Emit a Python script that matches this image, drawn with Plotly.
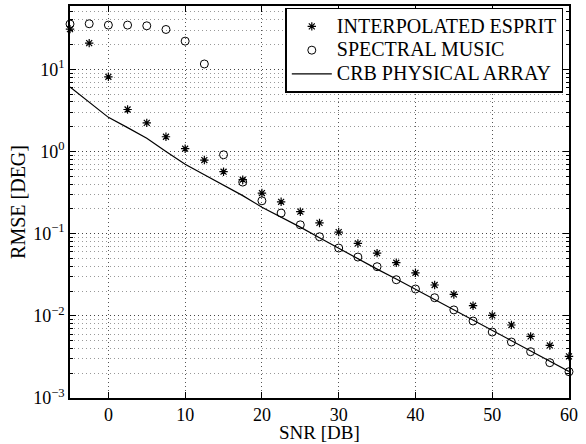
import plotly.graph_objects as go

snr_db = [-5, -2.5, 0, 2.5, 5, 7.5, 10, 12.5, 15, 17.5, 20, 22.5, 25, 27.5, 30,
          32.5, 35, 37.5, 40, 42.5, 45, 47.5, 50, 52.5, 55, 57.5, 60]

esprit_rmse = [30.8, 20.8, 8.1, 3.24, 2.23, 1.51, 1.08, 0.786, 0.567, 0.453, 0.312,
               0.244, 0.185, 0.135, 0.1045, 0.076, 0.058, 0.0443, 0.0334, 0.0237,
               0.0182, 0.01327, 0.0101, 0.00773, 0.00561, 0.00436, 0.00321]

music_rmse = [35.5, 35.8, 34.5, 34.5, 33.8, 30.5, 22.0, 11.6, 0.912, 0.424, 0.251,
              0.178, 0.128, 0.0917, 0.0668, 0.0519, 0.0396, 0.0275, 0.0212, 0.0166,
              0.0118, 0.00865, 0.00635, 0.0048, 0.00366, 0.00269, 0.00209]

crb_rmse = [6.1, 4.0, 2.6, 1.95, 1.45, 1.0, 0.70, 0.52, 0.39, 0.29, 0.21, 0.16,
            0.12, 0.089, 0.066, 0.05, 0.037, 0.028, 0.021, 0.0158, 0.0118, 0.0088,
            0.0066, 0.0049, 0.0037, 0.0028, 0.0021]

series_names = ["INTERPOLATED ESPRIT", "SPECTRAL MUSIC", "CRB PHYSICAL ARRAY"]

x_ticks = [0, 10, 20, 30, 40, 50, 60]
y_tick_vals = [0.001, 0.01, 0.1, 1, 10]
y_tick_text = ["10<sup>−3</sup>", "10<sup>−2</sup>", "10<sup>−1</sup>",
               "10<sup>0</sup>", "10<sup>1</sup>"]

FONT = "Liberation Serif"


def leg(name):
    return '<span style="font-size:20px">' + name + "</span>"


fig = go.Figure()
fig.add_trace(go.Scatter(
    x=snr_db, y=esprit_rmse, mode="markers", name=leg(series_names[0]),
    marker=dict(symbol="asterisk-open", size=7, color="black",
                line=dict(color="black", width=1.2)),
    cliponaxis=False))
fig.add_trace(go.Scatter(
    x=snr_db, y=music_rmse, mode="markers", name=leg(series_names[1]),
    marker=dict(symbol="circle-open", size=8, color="black",
                line=dict(color="black", width=1)),
    cliponaxis=False))
fig.add_trace(go.Scatter(
    x=snr_db, y=crb_rmse, mode="lines", name=leg(series_names[2]),
    line=dict(color="black", width=1.2)))

fig.update_layout(
    width=586, height=444,
    margin=dict(l=70, r=17, t=6, b=46),
    paper_bgcolor="white", plot_bgcolor="white",
    font=dict(family=FONT, size=18, color="black"),
    showlegend=True,
    legend=dict(x=0.9886, xanchor="right", y=0.995, yanchor="top",
                bgcolor="white", bordercolor="black", borderwidth=1.5,
                font=dict(family=FONT, size=16, color="black"),
                tracegroupgap=0, itemwidth=40),
    annotations=[dict(text="SNR [DB]", xref="paper", yref="paper",
                      x=0.5, y=-0.087, xanchor="center", yanchor="middle",
                      showarrow=False, font=dict(family=FONT, size=19))],
)

fig.update_xaxes(
    range=[-5, 60], tickvals=x_ticks, automargin=False,
    showline=True, linecolor="black", linewidth=1.5, mirror="ticks",
    ticks="inside", ticklen=6, tickcolor="black",
    showgrid=True, gridcolor="#555", griddash="1px,3px", gridwidth=1,
    zeroline=False,
    tickfont=dict(family=FONT, size=18),
)

fig.update_yaxes(
    type="log", range=[-3, 1.77], tickvals=y_tick_vals, ticktext=y_tick_text,
    automargin=False,
    showline=True, linecolor="black", linewidth=1.5, mirror="ticks",
    ticks="inside", ticklen=6, tickcolor="black",
    showgrid=True, gridcolor="#444", griddash="1px,3px", gridwidth=1,
    minor=dict(dtick="D1", ticks="inside", ticklen=3, tickcolor="black",
               showgrid=True, gridcolor="#999", griddash="1px,3px", gridwidth=1),
    zeroline=False,
    title=dict(text="RMSE [DEG]", font=dict(family=FONT, size=20), standoff=2),
    tickfont=dict(family=FONT, size=18),
)

fig.write_html("out.html", config={"displayModeBar": False},
               post_script="document.body.style.margin='0';")
